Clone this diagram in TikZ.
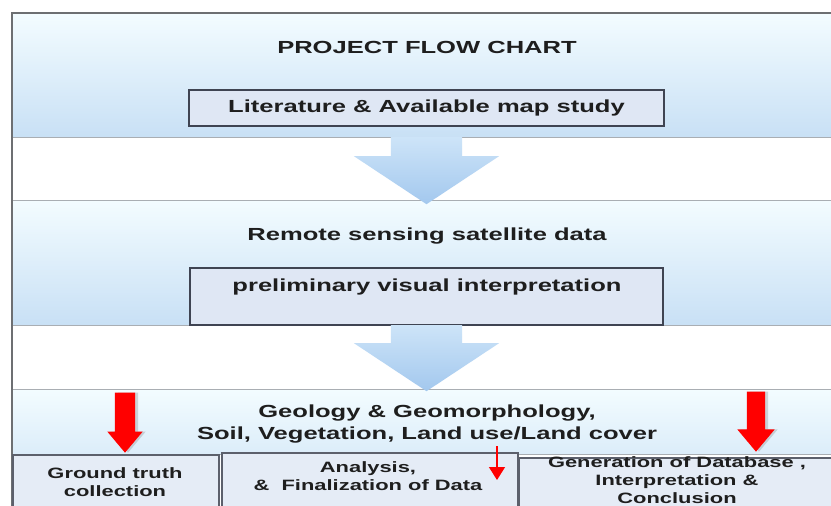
\documentclass[tikz,border=0pt]{standalone}
\usepackage{fontspec}
\setmainfont{Liberation Sans}[FakeStretch=1.46]
\usetikzlibrary{positioning,shapes.arrows,arrows.meta,shadows}
\definecolor{framegray}{HTML}{6D6F72}
\definecolor{linegray}{HTML}{A9AEB3}
\definecolor{bandtop}{HTML}{F3FCFF}
\definecolor{bandbot}{HTML}{C8E0F5}
\definecolor{boxfill}{HTML}{DFE7F4}
\definecolor{boxline}{HTML}{3F4452}
\definecolor{arrowtop}{HTML}{CDE4F8}
\definecolor{arrowbot}{HTML}{A3C8EE}
\definecolor{inktext}{HTML}{1E1E1E}
\tikzset{
  band/.style={rectangle, draw=linegray, line width=1pt, top color=bandtop,
    bottom color=bandbot, inner sep=0pt, anchor=north west},
  stepbox/.style={rectangle, draw=boxline, line width=1.4pt, fill=boxfill, inner sep=0pt},
  footbox/.style={rectangle, draw=boxline!85, line width=1.8pt, fill=boxfill!80!white,
    inner sep=0pt, anchor=north west},
  caption/.style={text=inktext, font=\bfseries\fontsize{17.5}{22}\selectfont,
    inner sep=0pt, align=center},
  footcaption/.style={text=inktext, font=\bfseries\fontsize{15}{18}\selectfont,
    inner sep=0pt, align=center},
  flowarrow/.style={single arrow, rotate=-90, draw=none, inner xsep=0pt, inner ysep=35.5pt,
    single arrow head extend=37pt, single arrow tip angle=113, minimum height=67pt,
    top color=arrowtop, bottom color=arrowbot},
  redarrow/.style={single arrow, rotate=-90, draw=none, inner xsep=0pt, inner ysep=10pt,
    single arrow head extend=7.5pt, single arrow tip angle=80, minimum height=60pt,
    fill=red, drop shadow={shadow xshift=3pt, shadow yshift=0pt, opacity=.3}},
  thinred/.style={draw=red, line width=1.4pt, -{Triangle[width=16pt,length=13pt]}}
}
\begin{document}
\begin{tikzpicture}[x=1pt, y=-1pt]
  \useasboundingbox[fill=white] (0,0) rectangle (831,506);
  \clip (0,0) rectangle (831,506);
  % bands
  \node[band, minimum width=840pt, minimum height=124pt] (bandA) at (12,13) {};
  \node[band, minimum width=840pt, minimum height=125pt] (bandB) at (12,200) {};
  \node[band, minimum width=840pt, minimum height=65pt,
    bottom color=bandbot!55!bandtop] (bandC) at (12,389) {};
  \coordinate (frameBase) at (12,506);
  \draw[framegray, line width=2.5pt] (frameBase) -- (bandA.north west) -- (bandA.north east);
  %
  \node[caption] (title) at (427,47.5) {PROJECT FLOW CHART};
  \node[stepbox, caption, minimum width=475pt, minimum height=36pt] (litbox) at (426.5,108)
    {Literature \& Available map study};
  \node[flowarrow, anchor=tail] (flowA) at (426.5,137) {};
  \node[caption] (remote) at (427,236) {Remote sensing satellite data};
  \node[stepbox, minimum width=473pt, minimum height=57pt] (prelimbox) at (426.5,296.5) {};
  \node[caption] (prelim) at (427,287) {preliminary visual interpretation};
  \node[flowarrow, anchor=tail, minimum height=66pt] (flowB) at (426.5,325) {};
  \node[caption] (theme) at (427,424.5)
    {Geology \& Geomorphology,\\Soil, Vegetation, Land use/Land cover};
  % bottom row
  \node[footbox, minimum width=206pt, minimum height=70pt] (ground) at (12,454) {};
  \node[footbox, minimum width=296pt, minimum height=70pt] (analysis) at (221,452) {};
  \node[footbox, minimum width=330pt, minimum height=70pt] (database) at (518,457) {};
  \node[footcaption] (groundtxt) at (115,482) {Ground truth\\collection};
  \node[footcaption] (analysistxt) at (368,476) {Analysis,\\\& \ Finalization of Data};
  \node[footcaption] (databasetxt) at (677,480)
    {Generation of Database ,\\Interpretation \&\\Conclusion};
  \node[redarrow, anchor=tip] (redA) at (125,453) {};
  \node[redarrow, anchor=tip, inner ysep=9pt, single arrow head extend=9.5pt] (redB) at (756,452) {};
  \coordinate (dropTop) at (497,446);
  \coordinate (dropEnd) at (497,480);
  \draw[thinred] (dropTop) -- (dropEnd);
\end{tikzpicture}
\end{document}
